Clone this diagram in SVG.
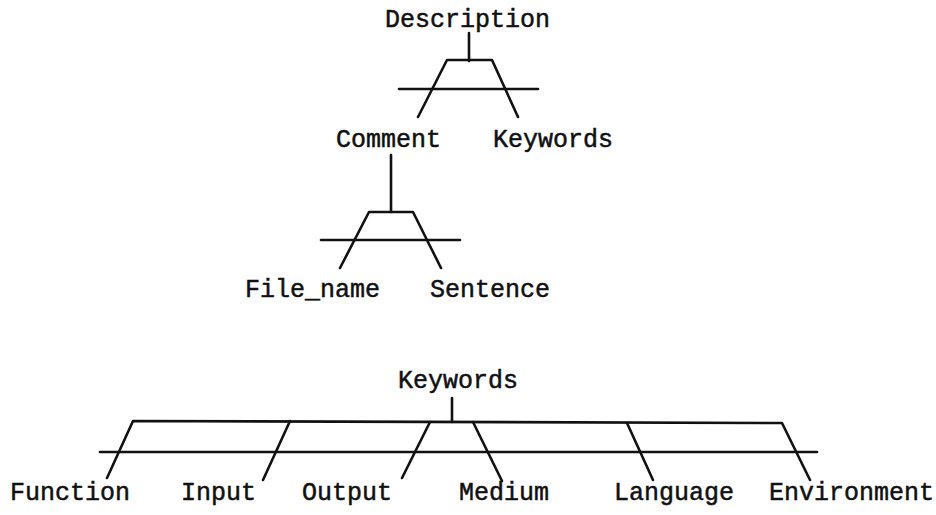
<svg xmlns="http://www.w3.org/2000/svg" width="936" height="515" viewBox="0 0 936 515">
<style>
.lbl{font-family:"Liberation Mono","Courier New",monospace;font-size:25px;fill:#111;stroke:#111;stroke-width:0.5}
.ln{fill:none;stroke:#111;stroke-width:2.6;stroke-linecap:round;stroke-linejoin:round}
</style>
<rect width="936" height="515" fill="#fff"/>
<g id="connectors">
  <g id="tree-description">
    <line class="ln" x1="469" y1="33" x2="469" y2="61"/>
    <polyline class="ln" points="418,117 447,60 492,60 518,117"/>
    <line class="ln" x1="399" y1="89" x2="538" y2="89"/>
  </g>
  <g id="tree-comment">
    <line class="ln" x1="391" y1="155" x2="391" y2="212"/>
    <polyline class="ln" points="340,268 369,212 413,212 441,268"/>
    <line class="ln" x1="321" y1="240" x2="460" y2="240"/>
  </g>
  <g id="tree-keywords">
    <line class="ln" x1="452" y1="398" x2="452" y2="422"/>
    <polyline class="ln" points="107,478 133,421 782,423 810,480"/>
    <line class="ln" x1="290" y1="421" x2="263" y2="480"/>
    <line class="ln" x1="430" y1="422" x2="402" y2="478"/>
    <line class="ln" x1="473" y1="422" x2="502" y2="481"/>
    <line class="ln" x1="627" y1="423" x2="653" y2="480"/>
    <line class="ln" x1="100" y1="452" x2="817" y2="452"/>
  </g>
</g>
<g id="description"><text class="lbl" x="385" y="27">Description</text></g>
<g id="comment"><text class="lbl" x="336" y="147">Comment</text></g>
<g id="keywords-top"><text class="lbl" x="493" y="147">Keywords</text></g>
<g id="file_name"><text class="lbl" x="245" y="297">File_name</text></g>
<g id="sentence"><text class="lbl" x="430" y="297">Sentence</text></g>
<g id="keywords"><text class="lbl" x="398" y="388">Keywords</text></g>
<g id="function"><text class="lbl" x="10" y="500">Function</text></g>
<g id="input"><text class="lbl" x="181" y="500">Input</text></g>
<g id="output"><text class="lbl" x="302" y="500">Output</text></g>
<g id="medium"><text class="lbl" x="459" y="500">Medium</text></g>
<g id="language"><text class="lbl" x="614" y="500">Language</text></g>
<g id="environment"><text class="lbl" x="769" y="500">Environment</text></g>
</svg>
